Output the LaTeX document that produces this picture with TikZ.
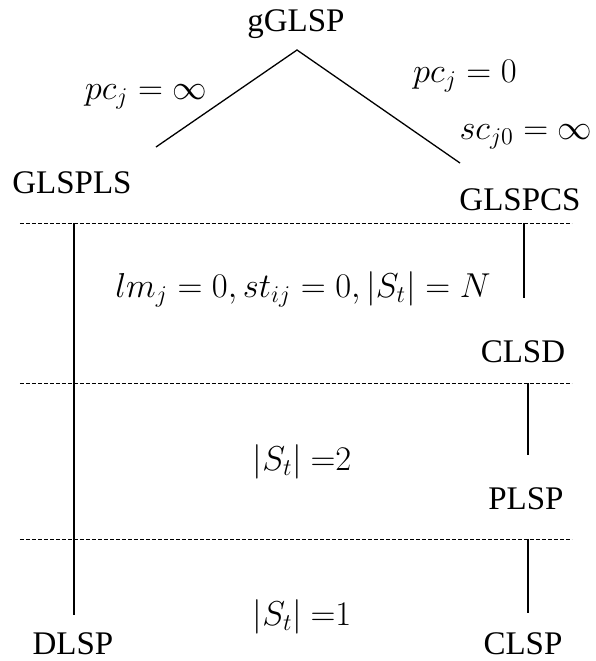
\documentclass[tikz,border=0pt]{standalone}
\usepackage{fontspec}
\setmainfont{Liberation Serif}
\begin{document}
\begin{tikzpicture}
[x=0.5pt, y=-0.5pt, font=\fontsize{16.5}{20}\selectfont]

\tikzstyle{problem}=[inner sep=0pt]
\tikzstyle{cond}=[inner sep=0pt]
\tikzstyle{link}=[line width=0.65pt]
\tikzstyle{level}=[dash pattern=on 2pt off 1pt, line width=0.5pt]

\useasboundingbox (0,0) rectangle (596,661);

\node[problem]	(gGLSP)		at (296,24)	{gGLSP};
\node[problem]	(GLSPLS)	at (72,183)	{GLSPLS};
\node[problem]	(GLSPCS)	at (520,200)	{GLSPCS};
\node[problem]	(CLSD)		at (523,352)	{CLSD};
\node[problem]	(PLSP)		at (526,499)	{PLSP};
\node[problem]	(DLSP)		at (73,644)	{DLSP};
\node[problem]	(CLSP)		at (523,644)	{CLSP};

\node[cond]	(pcinf)		at (146,97)	{$pc_j = \infty$};
\node[cond]	(pczero)	at (465,76)	{$pc_j = 0$};
\node[cond]	(scinf)		at (526,137)	{$sc_{j0} = \infty$};
\node[cond]	(lmzero)	at (303,289)	{$lm_j = 0, st_{ij} = 0, |S_t| = N$};
\node[cond]	(stwo)		at (302,462)	{$|S_t|\ {=}2$};
\node[cond]	(sone)		at (302,617)	{$|S_t|\ {=}1$};

\coordinate (apex)	at (297,50);
\coordinate (lend)	at (156,147);
\coordinate (rend)	at (460,163);

\coordinate (d1l) at (20,223);	\coordinate (d1r) at (572,223);
\coordinate (d2l) at (20,383);	\coordinate (d2r) at (572,383);
\coordinate (d3l) at (20,539);	\coordinate (d3r) at (572,539);

\coordinate (ltop) at (74,223);	\coordinate (lbot) at (74,615);
\coordinate (r1top) at (524,223);	\coordinate (r1bot) at (524,298);
\coordinate (r2top) at (528,383);	\coordinate (r2bot) at (528,455);
\coordinate (r3top) at (528,539);	\coordinate (r3bot) at (528,613);

\draw [link] (lend)--(apex)--(rend);
\draw [level] (d1l)--(d1r);
\draw [level] (d2l)--(d2r);
\draw [level] (d3l)--(d3r);
\draw [link] (ltop)--(lbot);
\draw [link] (r1top)--(r1bot);
\draw [link] (r2top)--(r2bot);
\draw [link] (r3top)--(r3bot);
\end{tikzpicture}
\end{document}
